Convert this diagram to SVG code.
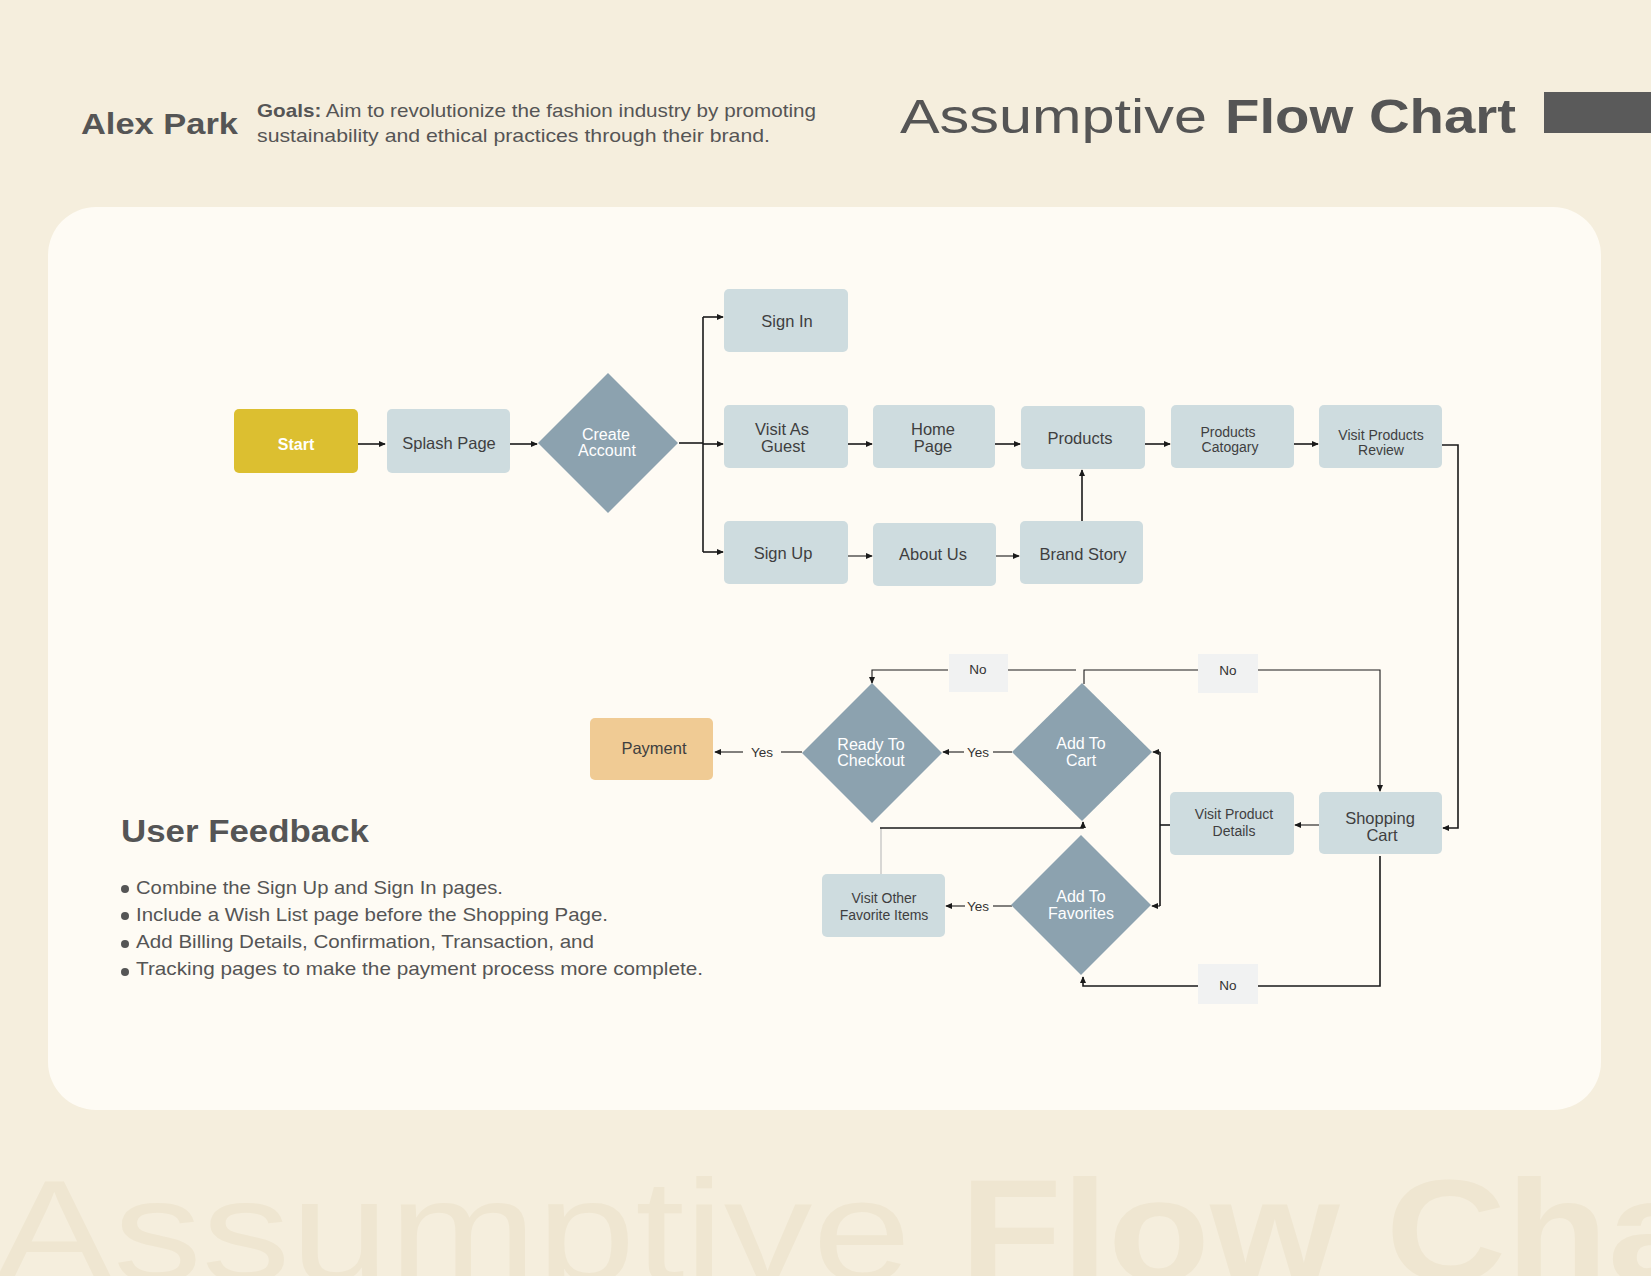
<svg xmlns="http://www.w3.org/2000/svg" width="1651" height="1276" viewBox="0 0 1651 1276">
<defs>
<marker id="ah" viewBox="0 0 8 8" refX="7" refY="4" markerWidth="7" markerHeight="7" markerUnits="userSpaceOnUse" orient="auto"><path d="M0,0.5 L8,4 L0,7.5 Z" fill="#1a1a1a"/></marker>
<style>
.bg{fill:#F5EEDD}
.panel{fill:#FEFBF4}
.box{fill:#CEDCDF}
.dia{fill:#8CA2AF}
.lbl{fill:#F1F2F2}
.t{font-family:"Liberation Sans",Arial,sans-serif;font-size:16.5px;fill:#3F3F3F;text-anchor:middle}
.ts{font-family:"Liberation Sans",Arial,sans-serif;font-size:14px;fill:#3F3F3F;text-anchor:middle}
.tw{font-family:"Liberation Sans",Arial,sans-serif;font-size:16px;fill:#FFFFFF;text-anchor:middle}
.tl{font-family:"Liberation Sans",Arial,sans-serif;font-size:13.5px;fill:#333;text-anchor:middle}
.c{fill:none;stroke:#1a1a1a;stroke-width:1.6}
.cthin{fill:none;stroke:#1a1a1a;stroke-width:1.1}
.body{font-family:"Liberation Sans",Arial,sans-serif;font-size:19px;fill:#555}
</style>
</defs>
<rect class="bg" x="0" y="0" width="1651" height="1276"/>
<text x="-5" y="1281" font-family="Liberation Sans,Arial,sans-serif" font-size="145" fill="#EFE6D1" textLength="916" lengthAdjust="spacingAndGlyphs">Assumptive</text>
<text x="960" y="1281" font-family="Liberation Sans,Arial,sans-serif" font-size="145" font-weight="bold" fill="#EFE6D1" textLength="861" lengthAdjust="spacingAndGlyphs">Flow Chart</text>

<g id="header">
<text x="81" y="134" font-family="Liberation Sans,Arial,sans-serif" font-size="30" font-weight="bold" fill="#555" textLength="157" lengthAdjust="spacingAndGlyphs">Alex Park</text>
<text x="257" y="117" class="body" font-size="18.5" textLength="559" lengthAdjust="spacingAndGlyphs"><tspan font-weight="bold">Goals:</tspan> Aim to revolutionize the fashion industry by promoting</text>
<text x="257" y="142" class="body" font-size="18.5" textLength="513" lengthAdjust="spacingAndGlyphs">sustainability and ethical practices through their brand.</text>
<text x="900" y="133" font-family="Liberation Sans,Arial,sans-serif" font-size="49" fill="#555" textLength="307" lengthAdjust="spacingAndGlyphs">Assumptive</text>
<text x="1225" y="133" font-family="Liberation Sans,Arial,sans-serif" font-size="49" font-weight="bold" fill="#555" textLength="291" lengthAdjust="spacingAndGlyphs">Flow Chart</text>
<rect x="1544" y="92" width="107" height="41" fill="#5A5A5A"/>
</g>

<rect class="panel" x="48" y="207" width="1553" height="903" rx="48"/>

<g id="connectors">
<path class="c" d="M358 444 H385" marker-end="url(#ah)"/>
<path class="c" d="M510 444 H537" marker-end="url(#ah)"/>
<path class="c" d="M679 443 H703"/>
<path class="c" d="M703 317 V552"/>
<path class="c" d="M703 317 H723" marker-end="url(#ah)"/>
<path class="c" d="M703 444 H723" marker-end="url(#ah)"/>
<path class="c" d="M703 552 H723" marker-end="url(#ah)"/>
<path class="c" d="M848 444 H872" marker-end="url(#ah)"/>
<path class="c" d="M995 444 H1020" marker-end="url(#ah)"/>
<path class="c" d="M1145 444 H1170" marker-end="url(#ah)"/>
<path class="c" d="M1294 444 H1318" marker-end="url(#ah)"/>
<path class="c" d="M1442 445 H1458 V828 H1443" marker-end="url(#ah)"/>
<path class="cthin" d="M848 556 H872" marker-end="url(#ah)"/>
<path class="cthin" d="M996 556 H1019" marker-end="url(#ah)"/>
<path class="c" d="M1082 521 V470" marker-end="url(#ah)"/>
<path class="cthin" d="M1319 825 H1295" marker-end="url(#ah)"/>
<path class="c" d="M1170 825 H1160"/>
<path class="c" d="M1160 752 V906"/>
<path class="cthin" d="M1160 752 H1153" marker-end="url(#ah)"/>
<path class="cthin" d="M1160 906 H1152" marker-end="url(#ah)"/>
<path class="cthin" d="M1084 684 V670 H1198"/>
<path class="cthin" d="M1258 670 H1380 V791" marker-end="url(#ah)"/>
<path class="cthin" d="M1076 670 H1008"/>
<path class="cthin" d="M948 670 H872 V683" marker-end="url(#ah)"/>
<path class="cthin" d="M1012 752 H993"/>
<path class="cthin" d="M964 752 H943" marker-end="url(#ah)"/>
<path class="cthin" d="M802 752 H781"/>
<path class="cthin" d="M743 752 H715" marker-end="url(#ah)"/>
<path class="cthin" d="M1012 906 H993"/>
<path class="cthin" d="M965 906 H946" marker-end="url(#ah)"/>
<path fill="none" stroke="#CFCFCC" stroke-width="1.6" d="M881 874 V828"/>
<path class="c" d="M880 828 H1083 V822" marker-end="url(#ah)"/>
<path class="c" d="M1380 856 V986 H1258"/>
<path class="c" d="M1198 986 H1083 V977" marker-end="url(#ah)"/>
</g>

<g id="start"><rect x="234" y="409" width="124" height="64" rx="5" fill="#DCBF30"/><text x="296" y="450" class="tw" font-size="18" font-weight="bold">Start</text></g>
<g id="splash"><rect class="box" x="387" y="409" width="123" height="64" rx="5"/><text x="449" y="449" class="t">Splash Page</text></g>
<g id="create-account"><polygon class="dia" points="608,373 678,443 608,513 538,443"/><text class="tw" x="606" y="440">Create</text><text class="tw" x="607" y="456">Account</text></g>
<g id="sign-in"><rect class="box" x="724" y="289" width="124" height="63" rx="5"/><text x="787" y="327" class="t">Sign In</text></g>
<g id="guest"><rect class="box" x="724" y="405" width="124" height="63" rx="5"/><text x="782" y="435" class="t">Visit As</text><text x="783" y="452" class="t">Guest</text></g>
<g id="home"><rect class="box" x="873" y="405" width="122" height="63" rx="5"/><text x="933" y="435" class="t">Home</text><text x="933" y="452" class="t">Page</text></g>
<g id="products"><rect class="box" x="1021" y="406" width="124" height="63" rx="5"/><text x="1080" y="444" class="t">Products</text></g>
<g id="catogary"><rect class="box" x="1171" y="405" width="123" height="63" rx="5"/><text x="1228" y="437" class="ts">Products</text><text x="1230" y="452" class="ts">Catogary</text></g>
<g id="review"><rect class="box" x="1319" y="405" width="123" height="63" rx="5"/><text x="1381" y="440" class="ts" fill="#222">Visit Products</text><text x="1381" y="455" class="ts" fill="#222">Review</text></g>
<g id="sign-up"><rect class="box" x="724" y="521" width="124" height="63" rx="5"/><text x="783" y="559" class="t">Sign Up</text></g>
<g id="about"><rect class="box" x="873" y="523" width="123" height="63" rx="5"/><text x="933" y="560" class="t">About Us</text></g>
<g id="brand"><rect class="box" x="1020" y="521" width="123" height="63" rx="5"/><text x="1083" y="560" class="t">Brand Story</text></g>
<g id="shopping-cart"><rect class="box" x="1319" y="792" width="123" height="62" rx="5"/><text x="1380" y="824" class="t">Shopping</text><text x="1382" y="841" class="t">Cart</text></g>
<g id="product-details"><rect class="box" x="1170" y="792" width="124" height="63" rx="5"/><text x="1234" y="819" class="ts">Visit Product</text><text x="1234" y="836" class="ts">Details</text></g>
<g id="add-to-cart"><polygon class="dia" points="1082,683 1152,752 1082,821 1012,752"/><text class="tw" x="1081" y="749">Add To</text><text class="tw" x="1081" y="766">Cart</text></g>
<g id="ready-checkout"><polygon class="dia" points="872,683 942,753 872,823 802,753"/><text class="tw" x="871" y="750">Ready To</text><text class="tw" x="871" y="766">Checkout</text></g>
<g id="payment"><rect x="590" y="718" width="123" height="62" rx="5" fill="#F0CB94"/><text x="654" y="754" class="t">Payment</text></g>
<g id="add-to-favorites"><polygon class="dia" points="1081,835 1151,905 1081,975 1011,905"/><text class="tw" x="1081" y="902">Add To</text><text class="tw" x="1081" y="919">Favorites</text></g>
<g id="visit-other"><rect class="box" x="822" y="874" width="123" height="63" rx="5"/><text x="884" y="903" class="ts">Visit Other</text><text x="884" y="920" class="ts">Favorite Items</text></g>

<g id="labels">
<rect class="lbl" x="949" y="654" width="59" height="38"/><text class="tl" x="978" y="674">No</text>
<rect class="lbl" x="1198" y="654" width="60" height="39"/><text class="tl" x="1228" y="675">No</text>
<rect class="lbl" x="1198" y="964" width="60" height="40"/><text class="tl" x="1228" y="990">No</text>
<text class="tl" x="762" y="757">Yes</text>
<text class="tl" x="978" y="757">Yes</text>
<text class="tl" x="978" y="911">Yes</text>
</g>

<g id="feedback">
<text x="121" y="842" font-family="Liberation Sans,Arial,sans-serif" font-size="32" font-weight="bold" fill="#555" textLength="248" lengthAdjust="spacingAndGlyphs">User Feedback</text>
<circle cx="125" cy="889" r="4" fill="#555"/><text class="body" x="136" y="894" textLength="367" lengthAdjust="spacingAndGlyphs">Combine the Sign Up and Sign In pages.</text>
<circle cx="125" cy="916" r="4" fill="#555"/><text class="body" x="136" y="921" textLength="472" lengthAdjust="spacingAndGlyphs">Include a Wish List page before the Shopping Page.</text>
<circle cx="125" cy="944" r="4" fill="#555"/><text class="body" x="136" y="948" textLength="458" lengthAdjust="spacingAndGlyphs">Add Billing Details, Confirmation, Transaction, and</text>
<circle cx="125" cy="972" r="4" fill="#555"/><text class="body" x="136" y="975" textLength="567" lengthAdjust="spacingAndGlyphs">Tracking pages to make the payment process more complete.</text>
</g>
</svg>
